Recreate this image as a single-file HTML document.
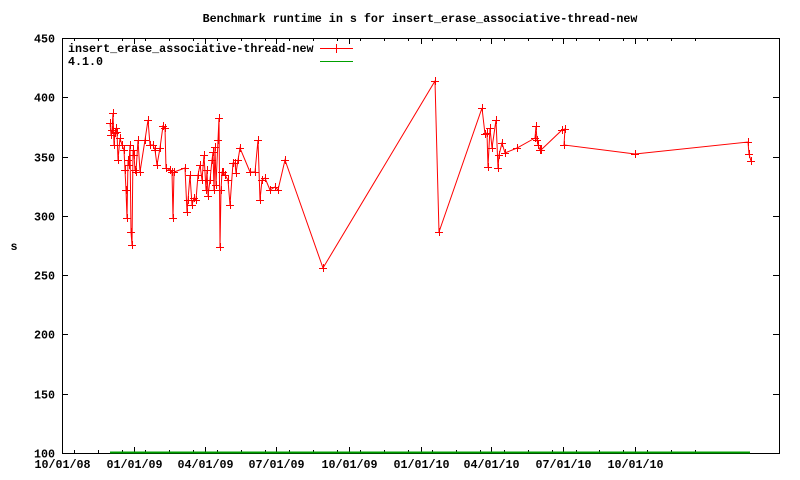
<!DOCTYPE html>
<html><head><meta charset="utf-8"><style>
html,body{margin:0;padding:0;background:#fff;}
svg{display:block;}
text{font-family:"Liberation Mono","DejaVu Sans Mono",monospace;font-size:11.7px;font-weight:bold;fill:#000;}
</style></head><body>
<svg id="s" width="800" height="480" xmlns="http://www.w3.org/2000/svg">
<text x="420" y="22" text-anchor="middle">Benchmark runtime in s for insert_erase_associative-thread-new</text>
<text x="14" y="250" text-anchor="middle">s</text>
<g id="ax" stroke="#000" stroke-width="1" fill="none">
<rect x="62.5" y="38.5" width="717" height="415"/>
</g>
<g id="yl"></g><g id="xl"></g>
<line x1="110" y1="452.5" x2="750" y2="452.5" stroke="#00a000" stroke-width="2"/>
<polyline id="pl" fill="none" stroke="#f00" stroke-width="1"/>
<path id="mk" fill="none" stroke="#f00" stroke-width="1"/>
<text x="68" y="52">insert_erase_associative-thread-new</text>
<text x="68" y="65">4.1.0</text>
<line x1="320" y1="48.5" x2="353" y2="48.5" stroke="#f00"/>
<line x1="336.5" y1="44" x2="336.5" y2="53" stroke="#f00"/>
<line x1="320" y1="61.5" x2="353" y2="61.5" stroke="#00a000"/>
</svg>
<script>
var NS="http://www.w3.org/2000/svg",ax=document.getElementById('ax'),yl=document.getElementById('yl'),xl=document.getElementById('xl');
function L(x1,y1,x2,y2){var l=document.createElementNS(NS,'line');l.setAttribute('x1',x1);l.setAttribute('y1',y1);l.setAttribute('x2',x2);l.setAttribute('y2',y2);ax.appendChild(l);}
function T(g,x,y,s,a){var t=document.createElementNS(NS,'text');t.setAttribute('x',x);t.setAttribute('y',y);t.setAttribute('text-anchor',a);t.textContent=s;g.appendChild(t);}
for(var v=100;v<=450;v+=50){var y=Math.round(453-(v-100)*415/350)+0.5;L(62,y,68,y);L(779,y,773,y);T(yl,55,y+4,String(v),'end');}
var labs=["10/01/08","01/01/09","04/01/09","07/01/09","10/01/09","01/01/10","04/01/10","07/01/10","10/01/10"];
var pd=573/730;
var days=[0,92,182,273,365,457,547,638,730];
for(var i=0;i<days.length;i++){var x=Math.round(62+days[i]*pd)+0.5;L(x,453,x,447);L(x,38,x,44);T(xl,x,468,labs[i],'middle');}
for(var m=0;m<27;m++){var d=m*30.44+15;var x=Math.round(62+d*pd)+0.5;if(x<779){L(x,453,x,450);L(x,38,x,41);}}
var P=[[110,123],[111,135],[112,130],[113,113],[114,145],[115,133],[116,128],[117,132],[118,160],[120,138],[122,145],[124,150],[125,170],[126,190],[127,218],[128,160],[129,165],[130,145],[131,232],[132,245],[133,150],[134,155],[135,170],[136,172],[138,140],[140,172],[145,140],[148,120],[150,145],[153,145],[155,150],[157,165],[160,148],[163,126],[165,128],[166,168],[170,170],[172,172],[173,218],[174,172],[185,168],[187,212],[188,200],[190,175],[192,205],[194,198],[196,200],[198,175],[200,165],[202,180],[204,155],[206,190],[207,170],[208,196],[210,180],[212,160],[213,152],[214,190],[215,147],[216,185],[218,140],[219,118],[220,247],[221,190],[222,172],[223,172],[225,175],[228,180],[230,205],[233,163],[235,163],[236,173],[238,160],[240,148],[250,172],[255,172],[258,140],[260,200],[262,180],[265,178],[270,190],[275,187],[278,190],[285,160],[323,268],[435,81],[439,232],[482,108],[485,134],[487,133],[488,167],[490,128],[492,148],[496,120],[498,168],[499,155],[502,143],[505,153],[517,148],[535,138],[536,126],[537,140],[538,145],[540,150],[541,150],[562,130],[565,129],[564,145],[635,154],[748,142],[749,154],[751,161]];
document.getElementById('pl').setAttribute('points',P.map(function(p){return p[0]+','+p[1];}).join(' '));
var d='';P.forEach(function(p){d+='M'+(p[0]-4)+' '+(p[1]+0.5)+'h8M'+(p[0]+0.5)+' '+(p[1]-4)+'v8';});
document.getElementById('mk').setAttribute('d',d);
</script>
</body></html>
